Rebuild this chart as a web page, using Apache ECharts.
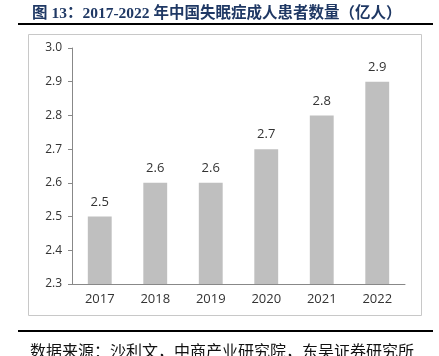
<!DOCTYPE html>
<html><head><meta charset="utf-8">
<script src="https://cdn.jsdelivr.net/npm/echarts@6/dist/echarts.min.js"></script>
<style>html,body{margin:0;padding:0;background:#fff}#c{width:439px;height:356px}</style>
</head><body><div id="c"></div>
<script>
var categories = ['2017','2018','2019','2020','2021','2022'];
var values = [2.5, 2.6, 2.6, 2.7, 2.8, 2.9];
var yMin = 2.3, yMax = 3.0, yStep = 0.1;
var titleText = '图 13：2017-2022 年中国失眠症成人患者数量（亿人）';
var sourceText = '数据来源：沙利文，中商产业研究院，东吴证券研究所';

var chart = echarts.init(document.getElementById('c'));
chart.setOption({
  animation: false,
  backgroundColor: '#fff',
  title: {
    text: titleText, left: 27, top: 1,
    textStyle: {fontSize: 15.5, fontWeight: 'bold', color: '#1F3864', fontFamily: '"Liberation Serif","Noto Sans CJK SC",serif'}
  },
  graphic: [
    {type: 'line', shape: {x1: 18, y1: 24, x2: 433, y2: 24}, style: {stroke: '#000', lineWidth: 2}},
    {type: 'rect', shape: {x: 28.5, y: 34.5, width: 393, height: 281}, style: {fill: 'none', stroke: '#C8C8C8', lineWidth: 1}},
    {type: 'line', shape: {x1: 18, y1: 331, x2: 433, y2: 331}, style: {stroke: '#000', lineWidth: 2}},
    {type: 'text', left: 30, top: 343, style: {text: sourceText, fill: '#111', font: '16px "Noto Sans CJK SC", sans-serif'}}
  ],
  grid: {left: 72, right: 34, top: 48, bottom: 72},
  xAxis: {
    type: 'category', data: categories,
    axisLine: {lineStyle: {color: '#888', width: 1}},
    axisTick: {show: false},
    axisLabel: {color: '#333', fontSize: 13, margin: 9, fontFamily: '"Open Sans",sans-serif'}
  },
  yAxis: {
    type: 'value', min: yMin, max: yMax, interval: yStep,
    axisLine: {show: true, lineStyle: {color: '#888'}},
    axisTick: {show: true, length: 4, lineStyle: {color: '#888'}},
    splitLine: {show: false},
    axisLabel: {color: '#333', fontSize: 12, margin: 10, fontFamily: '"Open Sans",sans-serif',
      formatter: function(v){return v.toFixed(1);}}
  },
  series: [{
    type: 'bar', data: values, barWidth: '43%',
    itemStyle: {color: '#BFBFBF'},
    label: {show: true, position: 'top', distance: 8, color: '#333', fontSize: 13, fontFamily: '"Open Sans",sans-serif',
      formatter: function(p){return p.value.toFixed(1);}}
  }]
});
</script></body></html>
